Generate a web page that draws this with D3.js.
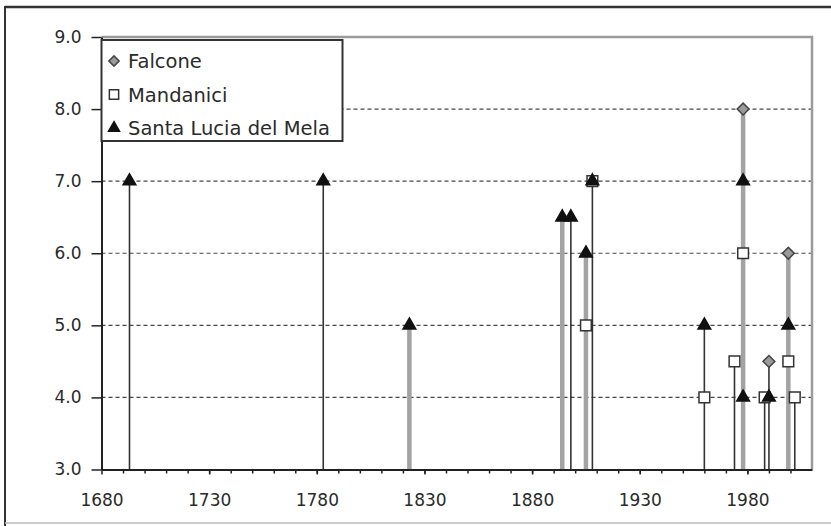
<!DOCTYPE html>
<html>
<head>
<meta charset="utf-8">
<script src="https://cdn.jsdelivr.net/npm/d3@7"></script>
<style>
  body { margin: 0; background: #fff; }
  svg text { font-family: "DejaVu Sans", sans-serif; fill: #2a2a2a; }
</style>
</head>
<body>
<div id="chart"></div>
<script>
// intensity (MCS) felt at each site, by year of the earthquake
const seriesNames = ["Falcone", "Mandanici", "Santa Lucia del Mela"];
const falconeYears = [1978, 1990, 1999];
const falconeValues = [8.0, 4.5, 6.0];
const mandaniciYears = [1905, 1908, 1960, 1974, 1978, 1988, 1999, 2002];
const mandaniciValues = [5.0, 7.0, 4.0, 4.5, 6.0, 4.0, 4.5, 4.0];
const santaLuciaYears = [1693, 1783, 1823, 1894, 1898, 1905, 1908, 1960, 1978, 1978, 1990, 1999];
const santaLuciaValues = [7.0, 7.0, 5.0, 6.5, 6.5, 6.0, 7.0, 5.0, 7.0, 4.0, 4.0, 5.0];
// vertical drop lines, one per event, two kinds
const stemYears = [1693, 1783, 1823, 1894, 1898, 1905, 1908, 1960, 1974, 1978, 1988, 1990, 1999, 2002];
const stemGroup = ["b", "b", "a", "a", "b", "a", "b", "b", "b", "a", "b", "b", "a", "b"];
const xTicks = [1680, 1730, 1780, 1830, 1880, 1930, 1980];
const yTicks = [3, 4, 5, 6, 7, 8, 9];

const W = 831, H = 526;
const pLeft = 101.5, pRight = 812, pTop = 37, pBottom = 469.5;

const svg = d3.select("#chart").append("svg").attr("width", W).attr("height", H);

// outer frame
svg.append("line").attr("x1", 5).attr("x2", W).attr("y1", 7).attr("y2", 7)
  .attr("stroke", "#333").attr("stroke-width", 2.5);
svg.append("line").attr("x1", 5).attr("x2", 5).attr("y1", 6).attr("y2", H)
  .attr("stroke", "#333").attr("stroke-width", 2);
svg.append("line").attr("x1", 5).attr("x2", W).attr("y1", 523).attr("y2", 523)
  .attr("stroke", "#bbb").attr("stroke-width", 1.5);

const x = d3.scaleLinear().domain([1680, 2010]).range([pLeft, pRight]);
const y = d3.scaleLinear().domain([3, 9]).range([pBottom, pTop]);

// gridlines
svg.append("g").selectAll("line").data(yTicks.filter(d => d > 3 && d < 9)).enter()
  .append("line").attr("x1", pLeft).attr("x2", pRight)
  .attr("y1", d => y(d)).attr("y2", d => y(d))
  .attr("stroke", "#444").attr("stroke-width", 1.2).attr("stroke-dasharray", "4,3");

// plot area border (top / right)
svg.append("path").attr("d", `M${pLeft},${pTop}H${pRight}V${pBottom}`)
  .attr("fill", "none").attr("stroke", "#9a9a9a").attr("stroke-width", 2.5);

// drop lines
const series = [
  { name: seriesNames[0], years: falconeYears, values: falconeValues },
  { name: seriesNames[1], years: mandaniciYears, values: mandaniciValues },
  { name: seriesNames[2], years: santaLuciaYears, values: santaLuciaValues }
];
const topAt = yr => d3.max(series.flatMap(s => s.values.filter((v, i) => s.years[i] === yr)));
const stemStyle = { a: { c: "#a3a3a3", w: 4.5 }, b: { c: "#333", w: 1.6 } };

svg.append("g").selectAll("line").data(stemYears).enter()
  .append("line")
  .attr("x1", d => x(d)).attr("x2", d => x(d))
  .attr("y1", d => y(topAt(d))).attr("y2", y(3))
  .attr("stroke", (d, i) => stemStyle[stemGroup[i]].c)
  .attr("stroke-width", (d, i) => stemStyle[stemGroup[i]].w);

// axes
const xAxis = svg.append("g").attr("transform", `translate(0,${pBottom})`)
  .call(d3.axisBottom(x).tickValues(xTicks).tickFormat(d3.format("d")).tickSize(5).tickSizeOuter(0));
xAxis.selectAll("text").attr("y", 36).attr("dy", null).style("font-size", "17px");
svg.append("g").attr("transform", `translate(0,${pBottom})`)
  .call(d3.axisBottom(x).tickValues(d3.range(1690, 2010, 10)).tickFormat("").tickSize(4).tickSizeOuter(0))
  .select(".domain").remove();

const yAxis = svg.append("g").attr("transform", `translate(${pLeft},0)`)
  .call(d3.axisLeft(y).tickValues(yTicks).tickFormat(d3.format(".1f")).tickSize(10).tickPadding(10).tickSizeOuter(0));
yAxis.selectAll("text").style("font-size", "17px");

svg.selectAll(".domain").attr("stroke", "#222").attr("stroke-width", 2);
svg.selectAll(".tick line").attr("stroke", "#222").attr("stroke-width", 1.5);

// markers
const shapes = [
  { sym: d3.symbolSquare, size: 70, rot: 45, fill: "#9a9a9a", stroke: "#444" },
  { sym: d3.symbolSquare, size: 115, rot: 0, fill: "#fff", stroke: "#333" },
  { sym: d3.symbolTriangle, size: 70, rot: 0, fill: "#111", stroke: "#111" }
];

series.forEach((s, k) => {
  const sh = shapes[k];
  svg.append("g").selectAll("path").data(s.years.map((yr, i) => [yr, s.values[i]])).enter()
    .append("path")
    .attr("d", d3.symbol().type(sh.sym).size(sh.size))
    .attr("transform", d => `translate(${x(d[0])},${y(d[1])}) rotate(${sh.rot})`)
    .attr("fill", sh.fill).attr("stroke", sh.stroke).attr("stroke-width", 1.5);
});

// legend
const lg = svg.append("g");
lg.append("rect").attr("x", 101.5).attr("y", 40).attr("width", 241).attr("height", 101)
  .attr("fill", "#fff").attr("stroke", "#333").attr("stroke-width", 2);
const rowY = d3.scalePoint().domain(seriesNames).range([61, 128]);
seriesNames.forEach((n, k) => {
  const sh = shapes[k];
  lg.append("path")
    .attr("d", d3.symbol().type(sh.sym).size(sh.size * 0.75))
    .attr("transform", `translate(114,${rowY(n)}) rotate(${sh.rot})`)
    .attr("fill", sh.fill).attr("stroke", sh.stroke).attr("stroke-width", 1.5);
  lg.append("text").attr("x", 128).attr("y", rowY(n)).attr("dy", "0.36em")
    .style("font-size", "19.5px").text(n);
});
</script>
</body>
</html>
